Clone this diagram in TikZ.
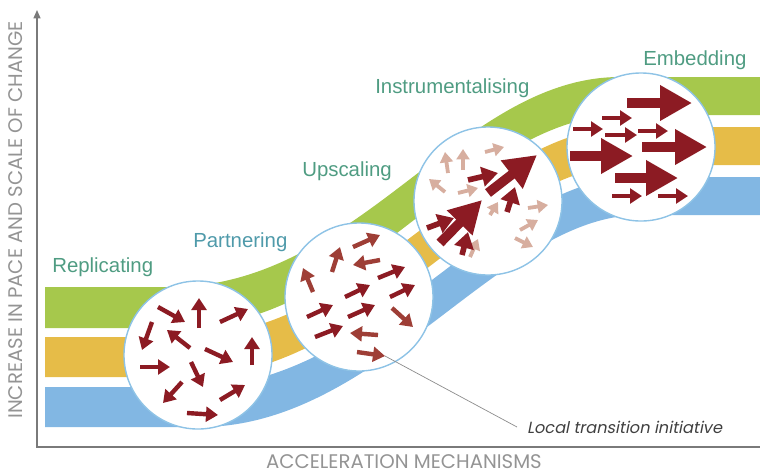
\documentclass[tikz,border=0pt]{standalone}
\usepackage{fontspec}
\setmainfont{Liberation Sans}
\newfontfamily\axisfont{Poppins}
\newfontfamily\notefont{Poppins}[FakeSlant=0.2]
\usetikzlibrary{calc,positioning,arrows.meta}

\definecolor{bandgreen}{HTML}{A6C84C}
\definecolor{bandyellow}{HTML}{E6BC48}
\definecolor{bandblue}{HTML}{82B7E3}
\definecolor{ringblue}{HTML}{8EC3E6}
\definecolor{arrowred}{HTML}{8C1B23}
\definecolor{arrowrust}{HTML}{9E3E36}
\definecolor{arrowpale}{HTML}{D7AE9F}
\definecolor{stagegreen}{HTML}{4F9C82}
\definecolor{stageteal}{HTML}{4F9AAA}
\definecolor{axisgray}{HTML}{7A7A7A}

\begin{document}
\begin{tikzpicture}[x=0.025cm,y=-0.025cm]
     \useasboundingbox (0,0) rectangle (760,475);
     \tikzstyle{ring}=[circle,draw=ringblue,line width=1pt,fill=white,minimum size=3.7cm,inner sep=0]
     \tikzstyle{stage}=[anchor=west,inner sep=0,font=\fontsize{14.5}{16}\selectfont]
     \tikzstyle{darr}=[arrowred,line width=0.11cm,-{Triangle[length=0.3cm,width=0.37cm]}]
     \tikzstyle{rarr}=[darr,arrowrust]
     \tikzstyle{parr}=[arrowpale,line width=0.095cm,-{Triangle[length=0.26cm,width=0.32cm]}]
     \tikzstyle{marr}=[arrowred,line width=0.14cm,-{Triangle[length=0.4cm,width=0.48cm]}]
     \tikzstyle{barr}=[arrowred,line width=0.24cm,-{Triangle[length=0.8cm,width=0.84cm]}]
     \tikzstyle{axislab}=[inner sep=0,text=black!42,font=\axisfont\fontsize{14}{16}\selectfont]

     % the three bands
     \fill[bandgreen] (45,287) -- (170,287) .. controls (360,287) and (460,77) .. (620,77) -- (760,77)
        -- (760,115) -- (624,115) .. controls (468,115) and (364,328) .. (176,328) -- (45,328) -- cycle;
     \fill[bandyellow] (45,337) -- (182,337) .. controls (368,337) and (476,127) .. (628,127) -- (760,127)
        -- (760,165) -- (632,165) .. controls (484,165) and (372,377) .. (188,377) -- (45,377) -- cycle;
     \fill[bandblue] (45,387) -- (194,387) .. controls (376,387) and (492,177) .. (636,177) -- (760,177)
        -- (760,215) -- (640,215) .. controls (500,215) and (380,427) .. (200,427) -- (45,427) -- cycle;

     % the four stages
     \node[ring] (rep) at (198,355) {};
     \node[ring] (par) at ($(rep)+(161,-58)$) {};
     \node[ring] (ups) at ($(par)+(129,-96)$) {};
     \node[ring] (emb) at ($(ups)+(153,-54)$) {};

     % replicating: all directions
     \draw[darr] ($(rep)+(-40,-48)$) -- ++(27,15);
     \draw[darr] ($(rep)+(1,-27)$) -- ++(0,-30);
     \draw[darr] ($(rep)+(22,-33)$) -- ++(28,-13);
     \draw[darr] ($(rep)+(-46,-33)$) -- ++(-10,28);
     \draw[darr] ($(rep)+(-8,-7)$) -- ++(-23,-18);
     \draw[darr] ($(rep)+(7,-6)$) -- ++(28,13);
     \draw[darr] ($(rep)+(54,10)$) -- ++(0,-28);
     \draw[darr] ($(rep)+(-58,12)$) -- ++(30,0);
     \draw[darr] ($(rep)+(-7,7)$) -- ++(12,25);
     \draw[darr] ($(rep)+(-16,27)$) -- ++(-19,21);
     \draw[darr] ($(rep)+(22,45)$) -- ++(25,-15);
     \draw[darr] ($(rep)+(-11,58)$) -- ++(31,2);

     % partnering: mostly up and right
     \draw[rarr] ($(par)+(-6,-50)$) -- ++(27,-12);
     \draw[rarr] ($(par)+(-27,-25)$) -- ++(8,-25);
     \draw[rarr] ($(par)+(-46,-5)$) -- ++(-10,-24);
     \draw[rarr] ($(par)+(21,-37)$) -- ++(-27,5);
     \draw[darr] ($(par)+(19,-19)$) -- ++(27,-11);
     \draw[darr] ($(par)+(-14,0)$) -- ++(25,-12);
     \draw[darr] ($(par)+(31,0)$) -- ++(25,-12);
     \draw[darr] ($(par)+(-52,20)$) -- ++(26,-12);
     \draw[darr] ($(par)+(-11,20)$) -- ++(27,-12);
     \draw[rarr] ($(par)+(33,11)$) -- ++(21,19);
     \draw[darr] ($(par)+(-44,40)$) -- ++(28,-11);
     \draw[rarr] ($(par)+(19,38)$) -- ++(-28,-2);
     \coordinate (tip) at ($(par)+(26,59)$);
     \draw[rarr] ($(par)+(-2,55)$) -- (tip);

     % upscaling
     \draw[parr] ($(ups)+(-40,-28)$) -- ++(-3,-21);
     \draw[parr] ($(ups)+(-25,-31)$) -- ++(0,-21);
     \draw[parr] ($(ups)+(-3,-49)$) -- ++(19,-5);
     \draw[parr] ($(ups)+(-43,-9)$) -- ++(-16,-13);
     \draw[parr] ($(ups)+(-30,-8)$) -- ++(20,-5);
     \draw[parr] ($(ups)+(2,14)$) -- ++(8,-13);
     \draw[parr] ($(ups)+(-18,56)$) -- ++(8,-18);
     \draw[parr] ($(ups)+(40,7)$) -- ++(20,-3);
     \draw[parr] ($(ups)+(32,29)$) -- ++(18,-10);
     \draw[parr] ($(ups)+(27,37)$) -- ++(18,9);
     \draw[marr] ($(ups)+(-61,27)$) -- ++(27,-10);
     \draw[marr] ($(ups)+(-26,54)$) -- ++(6,-23);
     \draw[marr] ($(ups)+(-20,-21)$) -- ++(30,-7);
     \draw[marr] ($(ups)+(19,11)$) -- ++(8,-25);
     \draw[barr] ($(ups)+(-48,42)$) -- ++(42,-43);
     \draw[barr] ($(ups)+(0,-8)$) -- ++(49,-38);

     % embedding: all to the right
     \draw[barr] ($(emb)+(-14,-44)$) -- ++(65,0);
     \draw[darr] ($(emb)+(-39,-29)$) -- ++(30,0);
     \draw[darr] ($(emb)+(-68,-18)$) -- ++(30,0);
     \draw[darr] ($(emb)+(-36,-12)$) -- ++(32,0);
     \draw[darr] ($(emb)+(-3,-16)$) -- ++(30,0);
     \draw[barr] ($(emb)+(1,0)$) -- ++(65,0);
     \draw[barr] ($(emb)+(-71,9)$) -- ++(63,0);
     \draw[barr] ($(emb)+(-26,31)$) -- ++(63,0);
     \draw[darr] ($(emb)+(-29,49)$) -- ++(30,0);
     \draw[darr] ($(emb)+(17,49)$) -- ++(30,0);

     % stage names
     \node[stage,text=stagegreen] (replab) at (52,267) {Replicating};
     \node[stage,text=stageteal] (parlab) at (193,242) {Partnering};
     \node[stage,text=stagegreen] (upslab) at (302,171) {Upscaling};
     \node[stage,text=stagegreen] (inslab) at (375,88) {Instrumentalising};
     \node[stage,text=stagegreen] (emblab) at (643,60) {Embedding};

     % note on one initiative
     \node[anchor=west,inner xsep=7pt,text=black!75,font=\notefont\fontsize{11.5}{14}\selectfont] (note) at (517,427) {Local transition initiative};
     \draw[black!45,line width=0.5pt] (tip) -- (note.west);

     % axes
     \coordinate (origin) at (37,447);
     \coordinate (ytop) at (37,10);
     \coordinate (xend) at (760,447);
     \draw[axisgray,line width=0.9pt,{Triangle[length=6pt,width=5pt]}-] (ytop) -- (origin) -- (xend);
     \node[axislab,rotate=90] (ylab) at (16,220) {INCREASE IN PACE AND SCALE OF CHANGE};
     \node[axislab] (xlab) at (404,462) {ACCELERATION MECHANISMS};
\end{tikzpicture}
\end{document}
